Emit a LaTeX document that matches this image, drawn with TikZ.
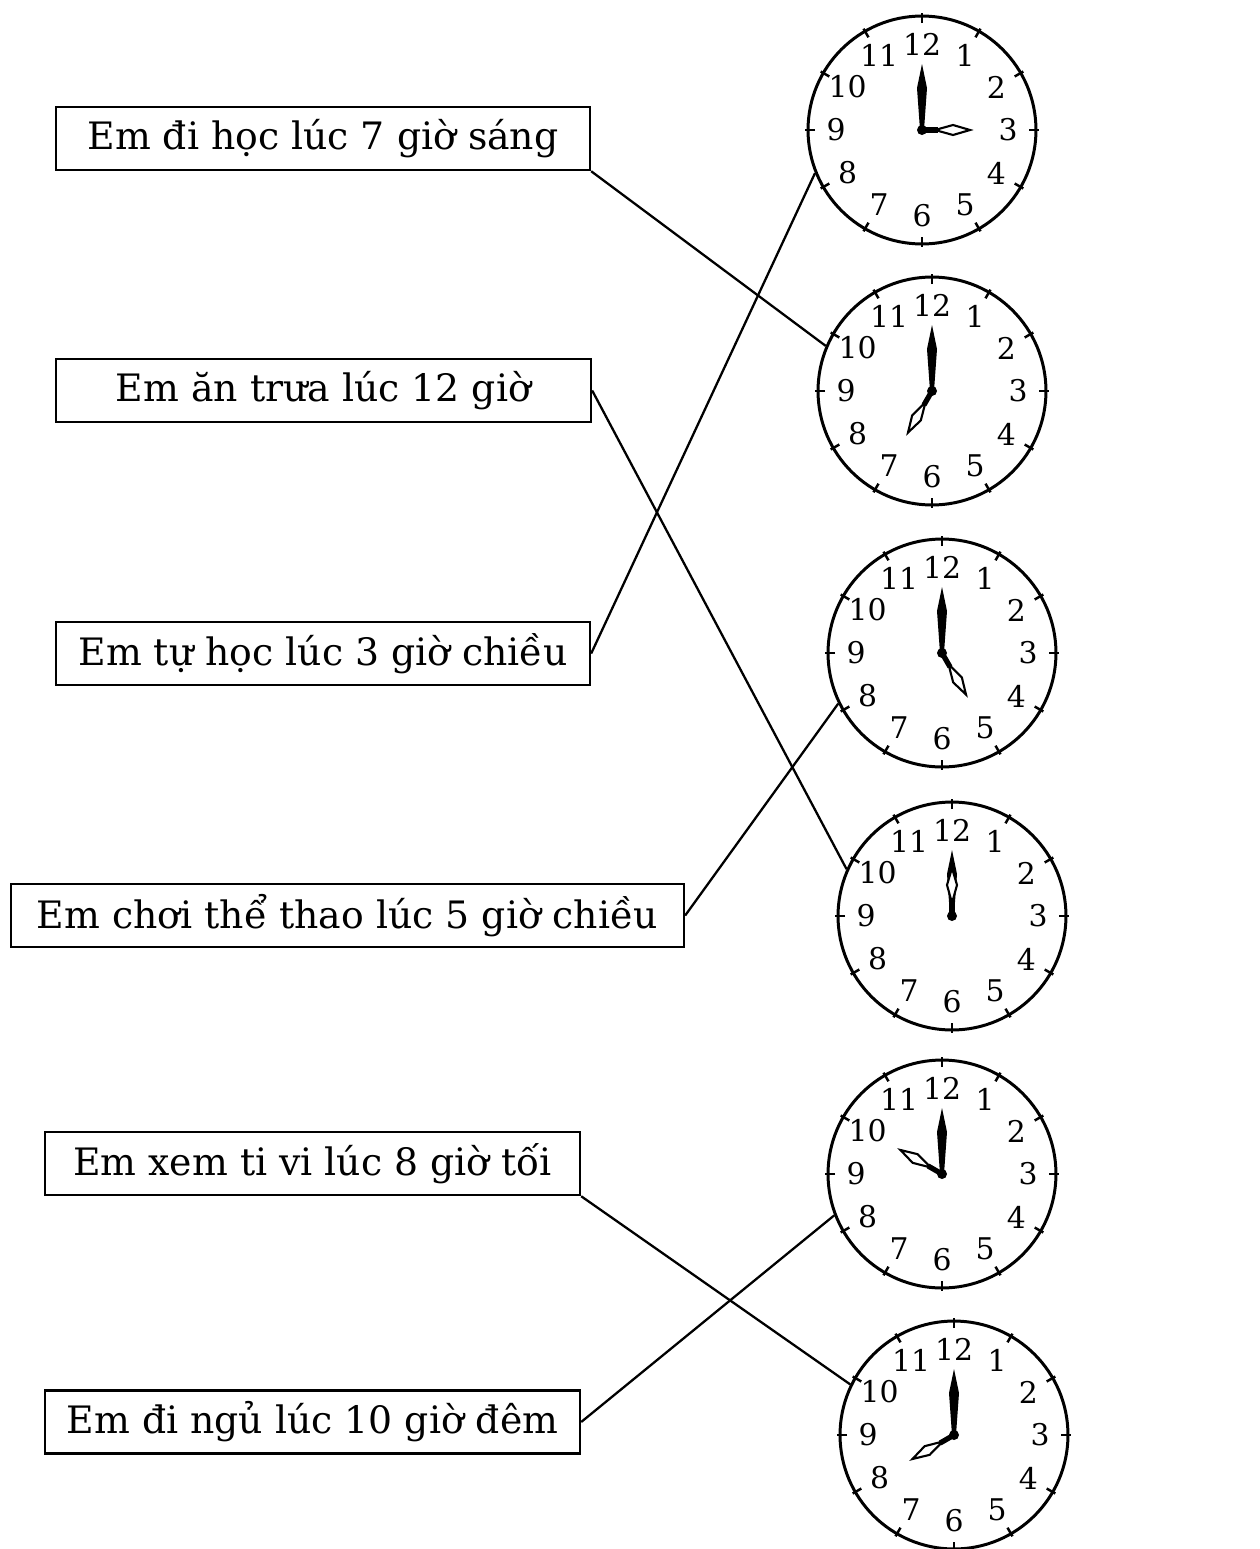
\documentclass[tikz,border=0pt]{standalone}
\usepackage{fontspec}
\setmainfont{DejaVu Serif}
\tikzset{
  taskbox/.style={draw, line width=1.4pt, minimum height=1.26cm, inner sep=0pt,
                  font=\fontsize{21.5}{24}\selectfont},
  clockface/.style={draw, circle, line width=1.7pt, minimum size=4.56cm, inner sep=0pt},
  link/.style={line width=1.3pt},
}

\begin{document}
\begin{tikzpicture}[x=0.02cm, y=0.02cm]
\def\rad{114} %radius of a clock
\def\rnum{86} %radius of the numbers
\useasboundingbox (0,0) rectangle (1260,-1549);

% the boxes on the left
\node[taskbox, minimum width=10.68cm] (job1) at (323,-138.5) {Em đi học lúc 7 giờ sáng};
\node[taskbox, minimum width=10.70cm] (job2) at (323.5,-390.5) {Em ăn trưa lúc 12 giờ};
\node[taskbox, minimum width=10.68cm] (job3) at (323,-653.5) {Em tự học lúc 3 giờ chiều};
\node[taskbox, minimum width=13.46cm] (job4) at (347.5,-915.5) {Em chơi thể thao lúc 5 giờ chiều};
\node[taskbox, minimum width=10.70cm] (job5) at (312.5,-1163.5) {Em xem ti vi lúc 8 giờ tối};
\node[taskbox, minimum width=10.70cm] (job6) at (312.5,-1422) {Em đi ngủ lúc 10 giờ đêm};

% the clocks: name/x/y/hour
\foreach \nm/\cx/\cy/\hr in {1/922/-130/3, 2/932/-391/7, 3/942/-653/5,
                             4/952/-916/12, 5/942/-1174/10, 6/954/-1435/8}
{
  \node[clockface] (clk\nm) at (\cx,\cy) {};
  \begin{scope}[shift={(\cx,\cy)}]
    \foreach \n in {1,...,12}
    {
      \draw[line width=1.4pt] ({90-30*\n}:{\rad-7}) -- ({90-30*\n}:{\rad+3});
      \node[font=\fontsize{17}{17}\selectfont, inner sep=0pt] at ({90-30*\n}:\rnum) {\n};
    }
    \fill (-2,0) -- (-5,42) -- (0,66) -- (5,42) -- (2,0) -- cycle; %minute hand
    \begin{scope}[rotate={-30*\hr}] %hour hand
      \draw[line width=3pt] (0,0) -- (0,16);
      \draw[line width=1.2pt, fill=white] (0,13) -- (-5,31) -- (0,48) -- (5,31) -- cycle;
    \end{scope}
    \fill (0,0) circle (5);
  \end{scope}
}

% the matching lines
\draw[link] (job1.south east) -- (clk2.157);
\draw[link] (job2.east) -- (clk4.156);
\draw[link] (job3.east) -- (clk1.202);
\draw[link] (job4.east) -- (clk3.206);
\draw[link] (job5.south east) -- (clk6.154);
\draw[link] (job6.east) -- (clk5.201);

\end{tikzpicture}
\end{document}
